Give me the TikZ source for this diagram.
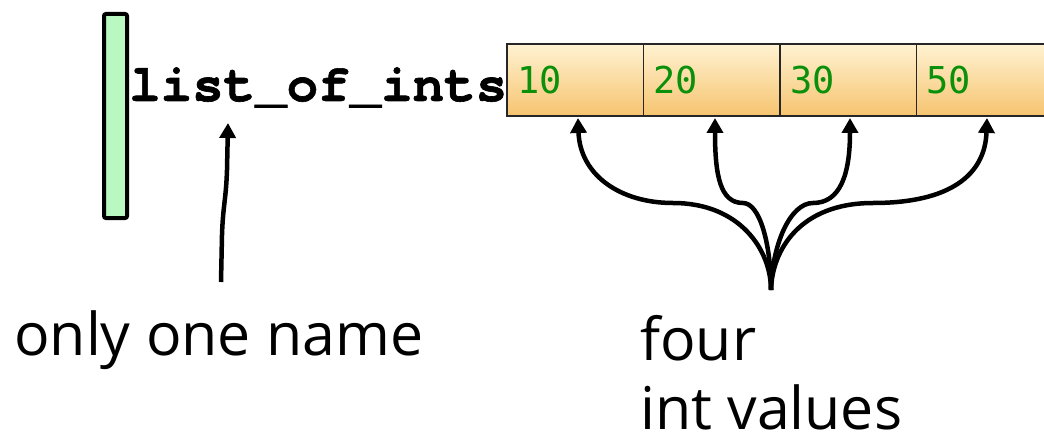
\documentclass[tikz,border=0pt]{standalone}
\usepackage{fontspec}
\setmainfont{Open Sans}
\newfontfamily\codefont{TeX Gyre Cursor}[BoldFeatures={FakeBold=1.2}]
\newfontfamily\cellfont{DejaVu Sans Mono}
\usetikzlibrary{arrows.meta}
\definecolor{barfill}{HTML}{B9F9C1}
\definecolor{celltop}{HTML}{FFF2D2}
\definecolor{cellmid}{HTML}{FDE7B9}
\definecolor{cellbot}{HTML}{F6C46F}
\definecolor{valgreen}{HTML}{0A900A}
\tikzset{
  cell/.style={draw=black!85, line width=1.6, minimum width=136.5, minimum height=72,
    top color=celltop, middle color=cellmid, bottom color=cellbot,
    text width=116.5, align=left, inner xsep=10, inner ysep=0,
    font=\cellfont\fontsize{37}{40}\selectfont, text=valgreen},
  pointer/.style={line width=4.5, -{Triangle[length=15,width=16]}},
  caption/.style={font=\fontsize{59}{70}\selectfont, inner sep=0, text depth=0,
    anchor=base west}
}
\begin{document}
\begin{tikzpicture}[x=1pt,y=-1pt]
\useasboundingbox (0,0) rectangle (1044,441);
\fill[white] (0,0) rectangle (1044,441);

% the variable: a green frame and its name
\node (bar) [draw, line width=4, fill=barfill, rounded corners=2,
  minimum width=23, minimum height=204, inner sep=0] at (115.5,116) {};
\node (var) [font=\codefont\bfseries\fontsize{52.5}{55}\selectfont, inner sep=0,
  anchor=base west] at (129,101) {list\_of\_ints};

% the list cells
\node (c1) [cell] at (575.25,80) {10};
\node (c2) [cell] at (711.75,80) {20};
\node (c3) [cell] at (848.25,80) {30};
\node (c4) [cell] at (984.75,80) {50};

% captions
\node (one) [caption] at (14,355) {only one name};
\node (four) [caption] at (640,360) {four};
\node (vals) [caption] at (640,429) {int values};

% arrow from the caption up to the name
\coordinate (nameroot) at (221,282);
\coordinate (nametip) at (228,123);
\draw[pointer] (nameroot) -- (222,235) .. controls (223,205) and (226,200) .. (227,170) -- (nametip);

% four arrows fanning out to the cells
\coordinate (fan) at (771,290);
\coordinate (t1) at (578,118);
\coordinate (t2) at (715,118);
\coordinate (t3) at (850,118);
\coordinate (t4) at (987,118);
\draw[pointer] (fan) .. controls (771,250) and (740,203) .. (673,203)
  .. controls (620,203) and (580,175) .. (t1);
\draw[pointer] (fan) .. controls (771,245) and (760,203) .. (743,203)
  .. controls (720,203) and (715,175) .. (t2);
\draw[pointer] (fan) .. controls (772,245) and (790,203) .. (813,203)
  .. controls (840,203) and (850,175) .. (t3);
\draw[pointer] (fan) .. controls (772,250) and (800,203) .. (873,203)
  .. controls (950,203) and (985,175) .. (t4);
\end{tikzpicture}
\end{document}
